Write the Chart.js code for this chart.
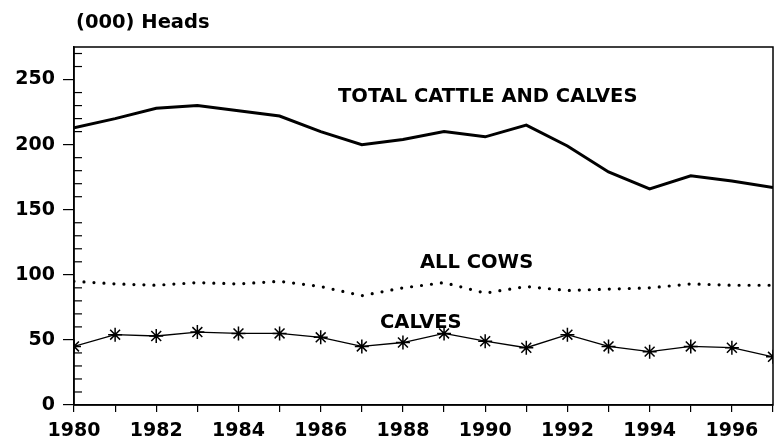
<!DOCTYPE html>
<html><head><meta charset="utf-8">
<script src="https://cdn.jsdelivr.net/npm/chart.js@4"></script>
<style>html,body{margin:0;padding:0;background:#fff}#wrap{width:782px;height:438px}</style>
</head><body><div id="wrap"><canvas id="c" width="782" height="438"></canvas></div>
<script>
const years = [1980,1981,1982,1983,1984,1985,1986,1987,1988,1989,1990,1991,1992,1993,1994,1995,1996,1997];
const totalCattle = [213,220,228,230,226,222,210,200,204,210,206,215,199,179,166,176,172,167];
const allCows = [95,93,92,94,93,95,91,84,90,94,86,91,88,89,90,93,92,92];
const calves = [45,54,53,56,55,55,52,45,48,55,49,44,54,45,41,45,44,37];
const yMajorTicks = [0,50,100,150,200,250];
const unitLabel = '(000) Heads';
const seriesLabels = ['TOTAL CATTLE AND CALVES','ALL COWS','CALVES'];

const FONT = 'DejaVu Sans';
const pts = arr => arr.map((v,i)=>({x:years[i],y:v}));

const deco = {
  id:'deco',
  afterDraw(chart){
    const {ctx, chartArea:a, scales:{y}} = chart;
    ctx.save();
    ctx.strokeStyle='#000'; ctx.lineWidth=1.5;
    ctx.strokeRect(a.left, a.top, a.right-a.left, a.bottom-a.top);
    ctx.lineWidth=1.2;
    for(let v=10; v<y.max; v+=10){
      if(v%50===0) continue;
      const py=y.getPixelForValue(v);
      ctx.beginPath(); ctx.moveTo(a.left,py); ctx.lineTo(a.left+8,py); ctx.stroke();
    }
    ctx.fillStyle='#000';
    ctx.textBaseline='middle'; ctx.textAlign='left';
    ctx.font='bold 19.5px "'+FONT+'"';
    ctx.fillText(unitLabel, 76, 23);
    ctx.fillText(seriesLabels[0], 338, 97);
    ctx.fillText(seriesLabels[1], 420, 263);
    ctx.fillText(seriesLabels[2], 380, 323);
    ctx.restore();
  }
};

new Chart(document.getElementById('c'), {
  type:'line',
  data:{datasets:[
    {label:seriesLabels[0], data:pts(totalCattle), borderColor:'#000', borderWidth:3, pointRadius:0, tension:0, fill:false},
    {label:seriesLabels[1], data:pts(allCows), borderColor:'#000', borderWidth:3.2, borderDash:[0,10], borderCapStyle:'round', pointRadius:0, tension:0, fill:false},
    {label:seriesLabels[2], data:pts(calves), borderColor:'#000', borderWidth:1.3, pointStyle:'star', pointRadius:7, pointBorderWidth:1.5, pointBorderColor:'#000', pointBackgroundColor:'#000', tension:0, fill:false}
  ]},
  options:{
    responsive:false, animation:false, devicePixelRatio:1,
    layout:{padding:{top:47,right:9,left:0,bottom:0}},
    plugins:{legend:{display:false}, tooltip:{enabled:false}},
    scales:{
      x:{type:'linear', min:1980, max:1997, border:{display:true,color:'#000',width:1.5},
        grid:{drawOnChartArea:false, drawTicks:true, tickLength:7, color:'#000', lineWidth:1.2},
        ticks:{stepSize:1, autoSkip:false, maxRotation:0, padding:8, color:'#000', font:{family:FONT, size:19, weight:'bold'},
          callback:v=> (v%2===0 ? String(v) : '')},
        afterFit:s=>{s.height=33;}
      },
      y:{type:'linear', min:0, max:275, border:{display:true,color:'#000',width:1.5},
        grid:{drawOnChartArea:false, drawTicks:true, tickLength:11, color:'#000', lineWidth:1.2},
        afterBuildTicks:s=>{s.ticks = yMajorTicks.map(v=>({value:v}));},
        ticks:{padding:8, color:'#000', font:{family:FONT, size:19, weight:'bold'}},
        afterFit:s=>{s.width=74;}
      }
    }
  },
  plugins:[deco]
});
</script></body></html>
